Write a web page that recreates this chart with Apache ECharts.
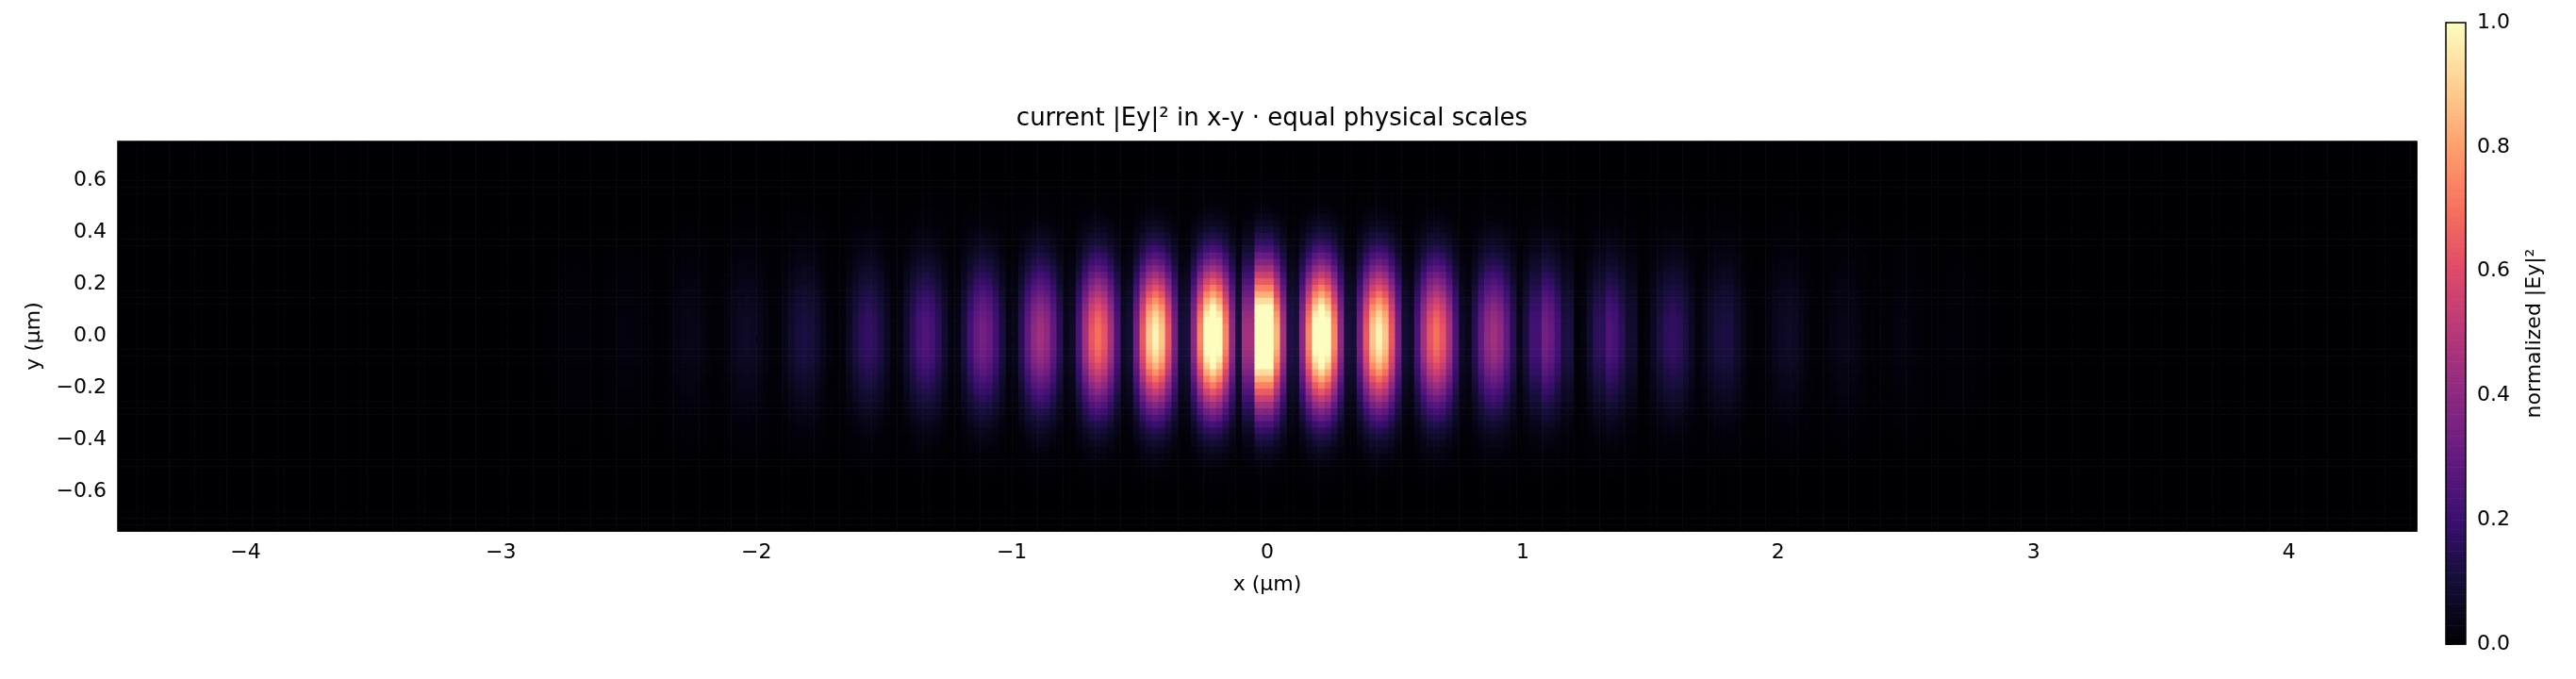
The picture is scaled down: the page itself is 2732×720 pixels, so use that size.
<!DOCTYPE html>
<html>
<head>
<meta charset="utf-8">
<script src="https://cdn.jsdelivr.net/npm/echarts@6/dist/echarts.min.js"></script>
<style>html,body{margin:0;background:#fff}#main{width:2732px;height:720px}</style>
</head>
<body>
<div id="main"></div>
<script>
// stripe centres (µm) and their peak normalized intensity
var stripeX = [-2.72, -2.5, -2.27, -2.03, -1.8, -1.57, -1.33, -1.1, -0.88, -0.66, -0.44, -0.22, 0,
               0.22, 0.44, 0.66, 0.89, 1.1, 1.35, 1.58, 1.8, 2.03, 2.26, 2.5, 2.72];
var stripePeak = [0.01, 0.02, 0.04, 0.07, 0.12, 0.18, 0.25, 0.34, 0.45, 0.7, 0.98, 1.15, 1.3,
                  1.15, 0.98, 0.7, 0.45, 0.34, 0.25, 0.18, 0.12, 0.07, 0.04, 0.02, 0.01];
// shape across one stripe, cells of 0.025 µm from centre outwards
var stripeShape = [1, 0.9, 0.65, 0.35, 0.1, 0.02];
// vertical profile, cells of 0.025 µm from y = 0 outwards
var yProfile = [1, 0.99, 0.96, 0.92, 0.86, 0.79, 0.71, 0.63, 0.55, 0.47, 0.39, 0.32, 0.26, 0.2,
                0.15, 0.11, 0.08, 0.055, 0.035, 0.02, 0.012, 0.006, 0.003, 0, 0, 0, 0, 0, 0, 0];
var xTicks = [-4, -3, -2, -1, 0, 1, 2, 3, 4];
var yTicks = [-0.6, -0.4, -0.2, 0, 0.2, 0.4, 0.6];
var cell = 0.025;

var magma = ['#000004', '#140e36', '#3b0f70', '#641a80', '#8c2981', '#b73779',
             '#de4968', '#f7705c', '#fe9f6d', '#fecf92', '#fcfdbf'];

var data = [];
for (var i = 0; i < 360; i++) {
    var x = -4.5 + cell * (i + 0.5);
    var best = 0, bd = 99;
    for (var k = 0; k < stripeX.length; k++) {
        var d = Math.abs(x - stripeX[k]);
        if (d < bd) { bd = d; best = k; }
    }
    var si = Math.round(bd / cell);
    var sx = si < stripeShape.length ? stripeShape[si] : 0;
    if (bd > 0.4) sx = 0;
    for (var j = 0; j < 60; j++) {
        var y = -0.75 + cell * (j + 0.5);
        var yi = Math.floor(Math.abs(y) / cell);
        var v = stripePeak[best] * sx * yProfile[yi];
        data.push([x, y, Math.min(v, 1)]);
    }
}

var cbData = [];
for (var c = 0; c < 200; c++) cbData.push([0, (c + 0.5) / 200, (c + 0.5) / 200]);

function frame(xi, yi, x0, x1, y0, y1) {
    return {
        type: 'custom', xAxisIndex: xi, yAxisIndex: yi, data: [[0]], z: 5, silent: true,
        renderItem: function (params, api) {
            var a = api.coord([x0, y1]), b = api.coord([x1, y0]);
            return { type: 'rect', shape: { x: a[0], y: a[1], width: b[0] - a[0], height: b[1] - a[1] },
                style: { fill: 'none', stroke: '#000', lineWidth: 1.5 } };
        }
    };
}

var font = 'DejaVu Sans';
var chart = echarts.init(document.getElementById('main'));
chart.setOption({
    animation: false,
    textStyle: { fontFamily: font },
    title: {
        text: 'current |Ey|² in x-y · equal physical scales',
        left: 1344, top: 108, textAlign: 'center',
        textStyle: { fontSize: 26, fontWeight: 'normal', color: '#000', fontFamily: font }
    },
    visualMap: [{
        show: false, min: 0, max: 1, dimension: 2, seriesIndex: [0, 1],
        inRange: { color: magma }
    }],
    grid: [
        { left: 125, top: 150, width: 2438, height: 413 },
        { left: 2594, top: 24, width: 21, height: 659 }
    ],
    xAxis: [{
        type: 'value', min: -4.5, max: 4.5, gridIndex: 0,
        name: 'x (µm)', nameLocation: 'middle', nameGap: 46,
        nameTextStyle: { fontSize: 22, color: '#000' },
        axisLine: { lineStyle: { color: '#000' } },
        axisTick: { show: true, length: 7, customValues: xTicks, lineStyle: { color: '#000' } },
        axisLabel: { fontSize: 22, color: '#000', margin: 12, customValues: xTicks,
            formatter: function (v) { return String(v).replace('-', '−'); } },
        splitLine: { show: false }
    }, {
        type: 'value', min: 0, max: 1, gridIndex: 1, show: false
    }],
    yAxis: [{
        type: 'value', min: -0.75, max: 0.75, gridIndex: 0,
        name: 'y (µm)', nameLocation: 'middle', nameGap: 78,
        nameTextStyle: { fontSize: 22, color: '#000' },
        axisLine: { show: true, lineStyle: { color: '#000' } },
        axisTick: { show: true, length: 7, customValues: yTicks, lineStyle: { color: '#000' } },
        axisLabel: { fontSize: 22, color: '#000', margin: 12, customValues: yTicks,
            formatter: function (v) { return v.toFixed(1).replace('-', '−'); } },
        splitLine: { show: false }
    }, {
        type: 'value', min: 0, max: 1, interval: 0.2, gridIndex: 1, position: 'right',
        name: 'normalized |Ey|²', nameLocation: 'middle', nameGap: 62, nameRotate: 90,
        nameTextStyle: { fontSize: 22, color: '#000' },
        axisLine: { show: true, lineStyle: { color: '#000' } },
        axisTick: { show: true, length: 7, lineStyle: { color: '#000' } },
        axisLabel: { fontSize: 22, color: '#000', margin: 12,
            formatter: function (v) { return v.toFixed(1); } },
        splitLine: { show: false }
    }],
    series: [{
        type: 'custom', xAxisIndex: 0, yAxisIndex: 0, data: data,
        renderItem: function (params, api) {
            var p0 = api.coord([api.value(0) - cell / 2, api.value(1) + cell / 2]);
            var p1 = api.coord([api.value(0) + cell / 2, api.value(1) - cell / 2]);
            return { type: 'rect',
                shape: { x: p0[0], y: p0[1], width: p1[0] - p0[0] + 0.6, height: p1[1] - p0[1] + 0.6 },
                style: { fill: api.visual('color') } };
        }
    }, {
        type: 'custom', xAxisIndex: 1, yAxisIndex: 1, data: cbData,
        renderItem: function (params, api) {
            var p0 = api.coord([0, api.value(1) + 0.0025]);
            var p1 = api.coord([1, api.value(1) - 0.0025]);
            return { type: 'rect',
                shape: { x: p0[0], y: p0[1], width: p1[0] - p0[0], height: p1[1] - p0[1] + 0.6 },
                style: { fill: api.visual('color') } };
        }
    },
    frame(1, 1, 0, 1, 0, 1),
    frame(0, 0, -4.5, 4.5, -0.75, 0.75)]
});
</script>
</body>
</html>
